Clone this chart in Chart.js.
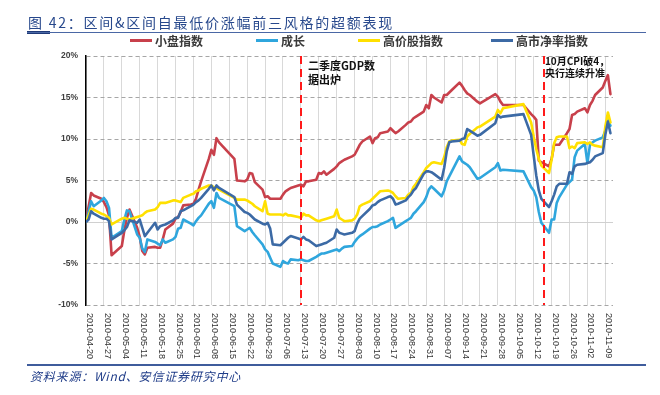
<!DOCTYPE html>
<html><head><meta charset="utf-8">
<script src="https://cdn.jsdelivr.net/npm/chart.js@4.4.1/dist/chart.umd.min.js"></script>
<style>
html,body{margin:0;padding:0;background:#fff;}
#wrap{position:relative;width:660px;height:395px;overflow:hidden;background:#fff;}
#title{position:absolute;left:28px;top:13px;font:14px "Noto Sans CJK SC";color:#27488C;letter-spacing:1.75px;white-space:nowrap;line-height:18px;}
#rule{position:absolute;left:27px;top:32px;width:619px;height:1px;background:#4A67A5;}
#ruleL{position:absolute;left:27px;top:31px;width:23px;height:3px;background:#1F3A78;}
#rule2{position:absolute;left:27px;top:364px;width:619px;height:2px;background:#3F5C9C;}
#src{position:absolute;left:30px;top:368px;font:italic 12px "Noto Sans CJK SC";color:#1F3C88;white-space:nowrap;line-height:16px;letter-spacing:0.8px;}
canvas{position:absolute;left:0;top:0;}
</style></head>
<body><div id="wrap">
<canvas id="c" width="660" height="395"></canvas>
<div id="title">图 42：区间&amp;区间自最低价涨幅前三风格的超额表现</div>
<div id="ruleL"></div><div id="rule"></div><div id="rule2"></div>
<div id="src">资料来源：Wind、安信证券研究中心</div>
</div>
<script>
const seriesNames = ['小盘指数', '成长', '高价股指数', '高市净率指数'];
const tickLabels = ['2010-04-20','2010-04-27','2010-05-04','2010-05-11','2010-05-18','2010-05-25','2010-06-01','2010-06-08','2010-06-15','2010-06-22','2010-06-29','2010-07-06','2010-07-13','2010-07-20','2010-07-27','2010-08-03','2010-08-10','2010-08-17','2010-08-24','2010-08-31','2010-09-07','2010-09-14','2010-09-21','2010-09-28','2010-10-05','2010-10-12','2010-10-19','2010-10-26','2010-11-02','2010-11-09'];
const yTicks = [-10, -5, 0, 5, 10, 15, 20];
const eventDates = ['2010-07-13', '2010-10-16'];
const eventNotes = [['二季度GDP数', '据出炉'], ['10月CPI破4，', '央行连续升准']];
const dates = [
'2010-04-20','2010-04-21','2010-04-22','2010-04-23','2010-04-26','2010-04-27','2010-04-28','2010-04-29','2010-04-30',
'2010-05-04','2010-05-05','2010-05-06','2010-05-07','2010-05-10','2010-05-11','2010-05-12','2010-05-13','2010-05-14','2010-05-17','2010-05-18','2010-05-19','2010-05-20','2010-05-21','2010-05-24','2010-05-25','2010-05-26','2010-05-27','2010-05-28','2010-05-31',
'2010-06-01','2010-06-02','2010-06-03','2010-06-04','2010-06-07','2010-06-08','2010-06-09','2010-06-10','2010-06-11','2010-06-17','2010-06-18','2010-06-21','2010-06-22','2010-06-23','2010-06-24','2010-06-25','2010-06-28','2010-06-29','2010-06-30',
'2010-07-01','2010-07-02','2010-07-05','2010-07-06','2010-07-07','2010-07-08','2010-07-09','2010-07-12','2010-07-13','2010-07-14','2010-07-15','2010-07-16','2010-07-19','2010-07-20','2010-07-21','2010-07-22','2010-07-23','2010-07-26','2010-07-27','2010-07-28','2010-07-29','2010-07-30',
'2010-08-02','2010-08-03','2010-08-04','2010-08-05','2010-08-06','2010-08-09','2010-08-10','2010-08-11','2010-08-12','2010-08-13','2010-08-16','2010-08-17','2010-08-18','2010-08-19','2010-08-20','2010-08-23','2010-08-24','2010-08-25','2010-08-26','2010-08-27','2010-08-30','2010-08-31',
'2010-09-01','2010-09-02','2010-09-03','2010-09-06','2010-09-07','2010-09-08','2010-09-09','2010-09-10','2010-09-13','2010-09-14','2010-09-15','2010-09-16','2010-09-17','2010-09-20','2010-09-21','2010-09-27','2010-09-28','2010-09-29','2010-09-30',
'2010-10-08','2010-10-11','2010-10-12','2010-10-13','2010-10-14','2010-10-15','2010-10-18','2010-10-19','2010-10-20','2010-10-21','2010-10-22','2010-10-25','2010-10-26','2010-10-27','2010-10-28','2010-10-29',
'2010-11-01','2010-11-02','2010-11-03','2010-11-04','2010-11-05','2010-11-08','2010-11-09','2010-11-10','2010-11-11'];
const smallCap = [
0.0,1.8,3.5,3.2,2.8,2.4,1.8,0.8,-4.0,
-2.9,-1.0,0.5,1.5,-0.7,-1.8,-3.5,-3.9,-3.1,-3.0,-3.1,-3.1,-2.1,-0.9,-0.2,0.4,0.6,1.2,2.0,2.1,
2.2,2.8,3.9,4.9,7.6,8.7,8.1,10.1,9.6,7.6,5.0,4.9,5.1,5.9,5.8,4.8,3.9,3.0,3.1,
2.8,2.8,2.8,3.3,3.7,3.9,4.1,4.4,4.5,4.3,4.9,4.9,5.1,5.9,5.8,6.1,5.7,6.4,6.7,7.1,7.3,7.5,
7.9,8.1,8.7,9.3,9.7,10.3,9.5,10.1,10.2,10.7,10.9,11.3,11.0,10.7,10.9,11.7,12.0,12.1,12.5,12.7,13.3,14.1,
13.7,15.3,15.0,14.4,15.3,15.3,15.6,15.9,16.8,16.4,15.9,15.5,15.3,14.5,14.3,15.4,15.1,14.5,14.1,
14.1,13.0,12.7,12.3,7.4,7.2,6.7,7.6,9.3,9.3,9.3,10.7,11.2,12.9,13.0,13.3,
13.7,13.2,14.1,14.6,15.3,16.2,17.0,17.7,15.4];
const growth = [
0.0,1.2,2.5,1.9,2.6,2.9,2.5,1.7,-1.9,
-1.1,0.3,1.4,1.3,-1.5,-1.9,-3.2,-3.6,-2.1,-2.4,-2.6,-2.8,-2.1,-2.5,-2.1,-1.8,-0.8,-0.7,0.3,-0.2,
-0.4,0.1,0.5,0.8,2.2,2.5,1.7,3.5,2.9,1.9,-0.5,-1.1,-0.9,-0.7,-1.2,-1.6,-2.7,-3.3,-3.6,
-4.3,-5.0,-5.4,-4.7,-4.9,-5.0,-4.5,-4.6,-4.5,-4.6,-4.7,-4.7,-4.2,-4.0,-3.8,-3.8,-3.7,-3.4,-3.3,-3.5,-3.2,-3.0,
-2.9,-2.4,-2.0,-1.7,-1.5,-0.8,-0.6,-0.6,-0.5,-0.3,0.1,0.3,0.5,-0.7,-0.5,0.1,0.3,0.5,1.0,1.3,2.4,3.0,
3.9,4.3,4.0,3.1,3.8,4.9,5.5,6.1,7.9,7.3,7.1,6.9,6.6,5.2,5.3,6.6,7.1,6.2,6.3,
6.1,4.2,3.8,3.0,1.2,-0.1,-1.3,0.3,0.3,2.3,3.0,4.5,4.8,5.1,7.8,8.6,
9.4,7.1,9.3,9.6,9.8,10.2,11.0,12.3,11.6];
const highPrice = [
0.0,0.8,1.6,1.5,1.0,0.9,0.7,0.5,-0.3,
0.4,0.5,0.4,0.3,0.6,0.7,0.8,1.1,1.3,1.5,1.8,2.3,2.3,2.3,2.6,2.6,2.5,2.4,2.9,3.3,
3.4,3.7,3.8,4.0,4.4,4.4,4.2,4.1,3.9,2.9,2.7,2.7,2.6,2.4,2.2,1.9,1.3,2.5,1.0,
0.9,0.9,0.9,0.8,1.0,0.8,0.8,0.6,0.5,1.0,0.8,0.8,0.2,0.1,0.2,0.3,0.4,0.7,1.5,0.5,0.3,0.1,
0.2,0.4,0.9,1.9,2.1,2.5,2.8,3.1,3.4,3.7,3.8,3.7,3.5,3.1,2.8,2.9,3.3,3.5,4.2,4.6,6.0,6.5,
6.8,7.1,7.2,7.0,7.8,9.0,9.7,9.8,9.9,9.4,9.3,10.3,10.6,11.4,11.5,12.7,13.5,13.1,13.7,
14.2,12.0,10.3,8.8,7.6,6.8,5.9,7.5,9.5,10.2,10.3,10.3,8.9,9.1,8.9,9.5,
9.6,9.4,9.6,9.3,9.2,9.0,11.5,13.2,12.0];
const highPB = [
0.0,0.3,1.3,1.0,0.5,0.4,0.4,0.1,-2.1,
-1.3,-1.0,-0.6,0.2,-0.1,0.3,-0.7,-1.7,-1.3,-0.1,-0.9,-0.5,-0.4,-0.3,0.2,0.5,0.5,1.3,1.4,1.9,
2.1,2.4,2.6,2.9,4.0,4.4,3.8,4.4,4.1,3.0,2.1,1.2,1.1,0.9,0.6,0.3,-0.2,-0.3,-0.1,
-0.8,-2.7,-2.8,-2.5,-2.2,-1.9,-1.7,-2.0,-2.1,-1.8,-2.1,-2.2,-2.9,-2.8,-2.7,-2.6,-2.5,-1.9,-0.9,-1.3,-1.4,-1.5,
-1.3,-1.1,-0.2,0.4,0.7,1.6,2.0,2.1,2.4,2.6,3.0,3.1,2.8,2.1,2.2,2.6,3.0,3.3,3.8,4.1,5.8,6.1,
6.1,6.0,5.8,5.1,6.5,8.5,9.6,9.7,9.8,10.0,10.1,11.2,11.0,10.4,10.5,11.9,12.9,12.6,12.7,
13.0,10.5,8.0,5.6,3.8,2.8,1.8,2.5,3.3,4.3,4.6,4.6,6.0,5.8,6.7,6.9,
7.0,7.1,7.2,7.5,7.9,8.3,10.5,12.1,10.7];

const colors = ['#C8404B', '#2FA6DD', '#FFE000', '#3C6AA5'];
const base = Date.UTC(2010, 3, 20);
function dayOf(s) { const p = s.split('-').map(Number); return (Date.UTC(p[0], p[1] - 1, p[2]) - base) / 86400000; }
const allSeries = [smallCap, growth, highPrice, highPB];
const drawOrder = [4, 3, 2, 1];

const overlay = {
  id: 'overlay',
  afterDatasetsDraw(chart) {
    const { ctx, chartArea: a, scales: { x } } = chart;
    ctx.save();
    ctx.strokeStyle = '#FF1A1A'; ctx.lineWidth = 2; ctx.setLineDash([8, 5]);
    eventDates.forEach(d => {
      const px = Math.round(x.getPixelForValue(dayOf(d)));
      ctx.beginPath(); ctx.moveTo(px, a.top); ctx.lineTo(px, a.bottom); ctx.stroke();
    });
    ctx.setLineDash([]);
    ctx.fillStyle = '#111'; ctx.textBaseline = 'middle'; ctx.textAlign = 'left';
    const p0 = x.getPixelForValue(dayOf(eventDates[0]));
    ctx.font = 'bold 11px "Noto Sans CJK SC"';
    ctx.fillText(eventNotes[0][0], p0 + 7, 66);
    ctx.fillText(eventNotes[0][1], p0 + 7, 79.5);
    const p1 = x.getPixelForValue(dayOf(eventDates[1]));
    ctx.font = 'bold 10px "Noto Sans CJK SC"';
    ctx.fillText(eventNotes[1][0], p1 + 1, 61);
    ctx.fillText(eventNotes[1][1], p1 + 1, 73.5);
    ctx.restore();
  },
  afterDraw(chart) {
    const { ctx, scales: { x } } = chart;
    ctx.save();
    ctx.fillStyle = '#333'; ctx.font = '9px "Liberation Sans", Arial';
    ctx.textAlign = 'left'; ctx.textBaseline = 'middle';
    tickLabels.forEach(l => {
      const px = x.getPixelForValue(dayOf(l));
      ctx.save(); ctx.translate(px + 3.5, 313); ctx.rotate(Math.PI / 2);
      ctx.fillText(l, 0, 0); ctx.restore();
    });
    const lx = [130, 256, 358, 491];
    ctx.font = 'bold 12px "Noto Sans CJK SC"';
    seriesNames.forEach((n, i) => {
      ctx.fillStyle = colors[i];
      ctx.fillRect(lx[i], 39, 22, 3);
      ctx.fillStyle = '#3A3A3A';
      ctx.fillText(n, lx[i] + 25, 41);
    });
    ctx.restore();
  }
};

new Chart(document.getElementById('c'), {
  type: 'line',
  data: {
    datasets: seriesNames.map((n, i) => ({
      label: n,
      data: dates.map((d, j) => ({ x: dayOf(d), y: allSeries[i][j] })),
      borderColor: colors[i], backgroundColor: colors[i],
      borderWidth: 2.6, pointRadius: 0, tension: 0, fill: false,
      borderJoinStyle: 'round', borderCapStyle: 'round', order: drawOrder[i]
    }))
  },
  options: {
    responsive: false, animation: false, events: [],
    layout: { padding: { left: 0, top: 56, right: 47, bottom: 90 } },
    plugins: { legend: { display: false }, tooltip: { enabled: false }, title: { display: false } },
    scales: {
      x: {
        type: 'linear', min: 0, max: 206,
        afterBuildTicks: s => { s.ticks = tickLabels.map(l => ({ value: dayOf(l) })); },
        afterFit: s => { s.height = 0; },
        ticks: { display: false },
        grid: { color: '#D9D9D9', lineWidth: 1, drawTicks: false },
        border: { display: false }
      },
      y: {
        min: -10, max: 20,
        afterBuildTicks: s => { s.ticks = yTicks.map(v => ({ value: v })); },
        afterFit: s => { s.width = 86; },
        ticks: { callback: v => v + '%', color: '#404040', font: { family: '"Liberation Sans", Arial', size: 8.5, weight: 'bold' }, padding: 8 },
        grid: { drawTicks: false, lineWidth: 1, color: c => (c.tick && c.tick.value === 0) ? '#D0D0D0' : '#A6A6A6' },
        border: { display: true, color: '#000', width: 1.5, dash: c => (c.tick && c.tick.value === 0) ? [] : [4, 3] }
      }
    }
  },
  plugins: [overlay]
});
</script>
</body></html>
